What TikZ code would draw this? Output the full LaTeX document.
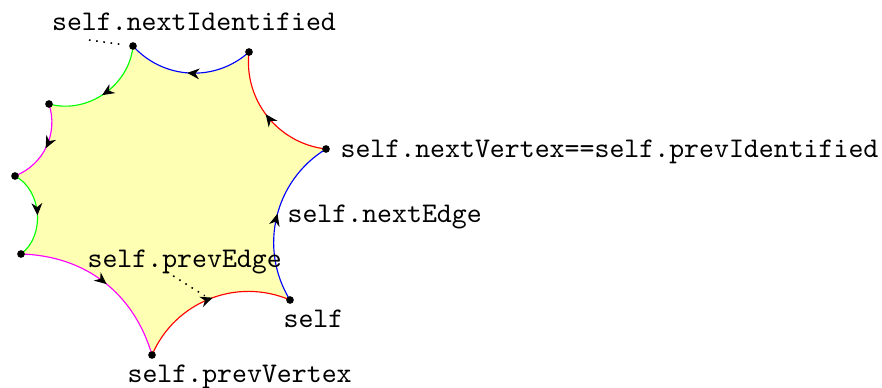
\documentclass[tikz,border=0pt]{standalone}
\usetikzlibrary{decorations.markings,arrows.meta}
\definecolor{facefill}{RGB}{255,255,179}
\definecolor{sidemagenta}{RGB}{255,0,255}
\definecolor{sidegreen}{RGB}{0,255,0}
\begin{document}
\begin{tikzpicture}[x=0.3514pt,y=-0.3514pt,
  midarrow/.style={postaction={decorate},
    decoration={markings,mark=at position 0.52 with {\arrow[black]{Stealth[length=4.3pt,width=3.8pt,inset=1.4pt]}}}},
  side/.style={midarrow},
  vdot/.style={circle,fill=black,inner sep=0pt,minimum size=2.7pt},
  lbl/.style={font=\ttfamily,inner sep=0pt},
  pointer/.style={dotted,line width=0.55pt}]
\useasboundingbox (0,0) rectangle (882,388);

% corners of the face
\coordinate (A) at (133,46);
\coordinate (B) at (249,52);
\coordinate (C) at (326,149);
\coordinate (D) at (290,300);
\coordinate (E) at (152,355);
\coordinate (F) at (21,254);
\coordinate (G) at (15,176);
\coordinate (H) at (49,104);

% face interior
\fill[facefill] (A) to[bend left=50] (H) to[bend left=43] (G) to[bend left=58] (F)
  to[bend left=36] (E) to[bend left=45] (D) to[bend left=45] (C)
  to[bend left=45] (B) to[bend left=45] (A) -- cycle;

% oriented sides
\draw[sidegreen,side]   (A) to[bend left=50] (H);
\draw[sidemagenta,side] (H) to[bend left=43] (G);
\draw[sidegreen,side]   (G) to[bend left=58] (F);
\draw[sidemagenta,side] (F) to[bend left=36] (E);
\draw[red,side]     (E) to[bend left=45] coordinate[pos=0.5] (ED) (D);
\draw[blue,side]    (D) to[bend left=45] (C);
\draw[red,side]     (C) to[bend left=45] (B);
\draw[blue,side]    (B) to[bend left=45] (A);

% vertices
\foreach \v in {A,B,C,D,E,F,G,H}
  \node[vdot] (n\v) at (\v) {};

% labels
\node[lbl,anchor=base] (lNI) at (194,31) {self.nextIdentified};
\node[lbl,anchor=base west] (lNV) at (340,158) {self.nextVertex==self.prevIdentified};
\node[lbl,anchor=base west] (lNE) at (287,223) {self.nextEdge};
\node[lbl,anchor=base west] (lPE) at (87,268) {self.prevEdge};
\node[lbl,anchor=base west] (lS) at (283,328) {self};
\node[lbl,anchor=base west] (lPV) at (127,382) {self.prevVertex};

% pointers
\coordinate (pNI) at (89,40);
\draw[pointer,shorten >=3.8pt] (pNI) -- (A);
\coordinate (pPE) at (167,272);
\draw[pointer,shorten >=2pt] (pPE) -- (ED);
\end{tikzpicture}
\end{document}
